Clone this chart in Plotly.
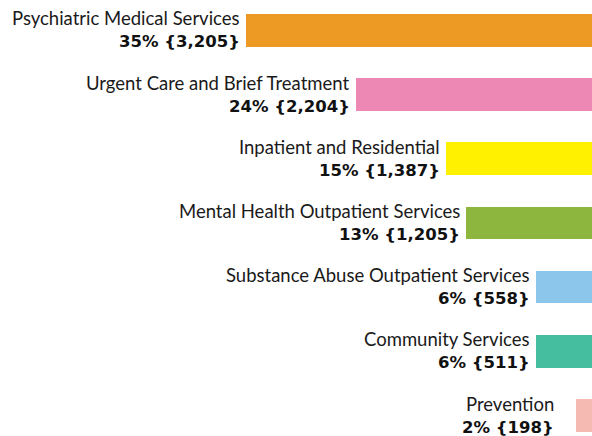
import plotly.graph_objects as go

categories = [
    "Psychiatric Medical Services",
    "Urgent Care and Brief Treatment",
    "Inpatient and Residential",
    "Mental Health Outpatient Services",
    "Substance Abuse Outpatient Services",
    "Community Services",
    "Prevention",
]
counts = [3205, 2204, 1387, 1205, 558, 511, 198]
percents = [35, 24, 15, 13, 6, 6, 2]
colors = ["#EC9A24", "#ED88B5", "#FFF100", "#8DB63F", "#8CC6EA", "#45BEA0", "#F5BAB2"]

FONT = "Lato"
BOLD_FONT = "DejaVu Sans"

# extra horizontal gap (px) between a label and its bar, where the layout uses one
extra_gap = {"Prevention": 16}

fig = go.Figure(
    go.Bar(
        y=categories,
        x=percents,
        orientation="h",
        marker=dict(color=colors, line=dict(width=0)),
        width=0.51,
        hoverinfo="skip",
    )
)

annotations = []
for cat, p, c in zip(categories, percents, counts):
    shift = -4 - extra_gap.get(cat, 0)
    annotations.append(dict(
        x=p, y=cat, xref="x", yref="y", xanchor="right", yanchor="bottom",
        text=cat, showarrow=False, xshift=shift, yshift=-1,
        font=dict(family=FONT, size=18.5, color="#1a1a1a"),
    ))
    annotations.append(dict(
        x=p, y=cat, xref="x", yref="y", xanchor="right", yanchor="top",
        text=f"<b>{p}% {{{c:,}}}</b>", showarrow=False, xshift=shift, yshift=0,
        font=dict(family=BOLD_FONT, size=16.5, color="#111111"),
    ))

fig.update_layout(
    width=592, height=436,
    margin=dict(l=0, r=0, t=0, b=0),
    paper_bgcolor="white", plot_bgcolor="white",
    showlegend=False,
    annotations=annotations,
    xaxis=dict(range=[59.6, 0.4], visible=False, fixedrange=True),
    yaxis=dict(range=[6.319, -0.472], visible=False, fixedrange=True),
    bargap=0,
)

fig.write_html(
    "out.html",
    config={"displayModeBar": False},
    post_script="document.body.style.margin='0';document.body.style.overflow='hidden';",
)
